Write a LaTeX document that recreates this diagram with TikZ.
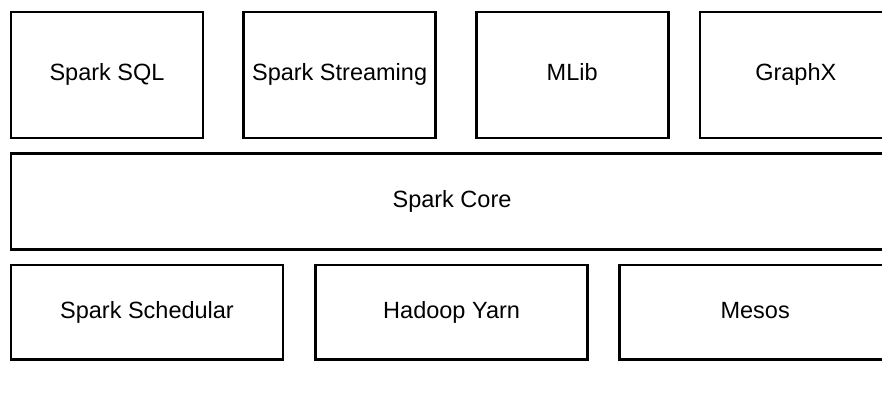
\documentclass[tikz,border=0pt]{standalone}
\usepackage{fontspec}
\setmainfont{Liberation Sans}
\usetikzlibrary{positioning}
\tikzstyle{layer} = [draw, line width=2.6pt, rectangle, minimum height=126pt, minimum width=192pt, text height=17pt, text depth=5pt, font=\fontsize{23.5}{28}\selectfont]
\tikzstyle{core} = [layer, minimum height=96pt, minimum width=882pt]
\tikzstyle{manager} = [layer, minimum height=94pt, minimum width=272pt]

\begin{document}
\begin{tikzpicture}[x=1pt, y=1pt, node distance=38pt]
    \useasboundingbox (0,0) rectangle (882,396);
    % We start with the libraries on top
    \node [layer] (sql) at (107,321) {Spark SQL};
    \node [layer, right=38pt of sql] (streaming) {Spark Streaming};
    \node [layer, right=38pt of streaming] (mlib) {MLib};
    \node [layer, right=29pt of mlib] (graphx) {GraphX};
    % the core below them
    \node [core, below=13pt of sql.south west, anchor=north west] (core) {Spark Core};
    % cluster managers
    \node [manager, below=13pt of core.south west, anchor=north west] (schedular) {Spark Schedular};
    \node [manager, right=30pt of schedular] (yarn) {Hadoop Yarn};
    \node [manager, right=29pt of yarn] (mesos) {Mesos};
\end{tikzpicture}
\end{document}
